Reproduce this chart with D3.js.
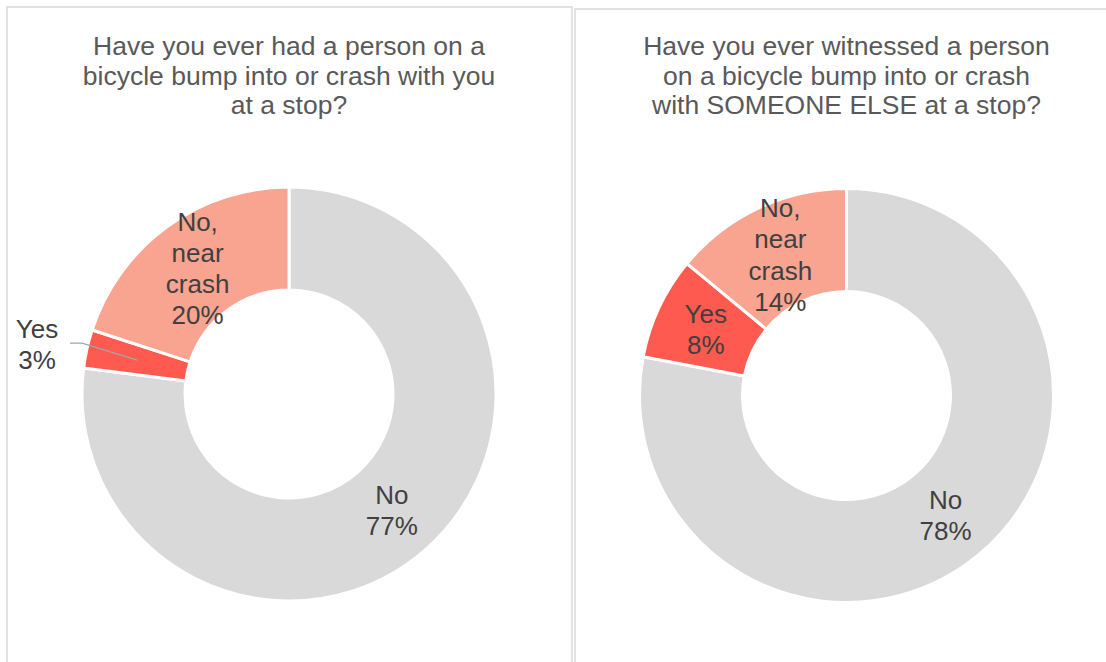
<!DOCTYPE html>
<html>
<head>
<meta charset="utf-8">
<script src="https://cdn.jsdelivr.net/npm/d3@7"></script>
<style>
  html, body { margin: 0; padding: 0; background: #ffffff; }
  svg { display: block; }
  text { font-family: "Liberation Sans", Arial, sans-serif; }
</style>
</head>
<body>
<svg id="chart" width="1106" height="662"></svg>
<script>
// Survey answers, in the order they are drawn clockwise from 12 o'clock
const categories = ["No", "Yes", "No, near crash"];
const labelLines = [["No"], ["Yes"], ["No,", "near", "crash"]];
const selfValues = [77, 3, 20];
const othersValues = [78, 8, 14];
const titles = [
  ["Have you ever had a person on a", "bicycle bump into or crash with you", "at a stop?"],
  ["Have you ever witnessed a person", "on a bicycle bump into or crash", "with SOMEONE ELSE at a stop?"]
];

const colors = d3.scaleOrdinal()
  .domain(categories)
  .range(["#d9d9d9", "#ff5a4f", "#f8a490"]);

const svg = d3.select("#chart");

const panels = [
  { x: 7, y: 7, w: 565, h: 700, cx: 289, cy: 394, values: selfValues, title: titles[0], outside: ["Yes"] },
  { x: 575, y: 9, w: 560, h: 700, cx: 846.5, cy: 395.5, values: othersValues, title: titles[1], outside: [] }
];

const outerR = 207;
const innerR = 104;

const pie = d3.pie().sort(null).value(d => d.value);
const arc = d3.arc().innerRadius(innerR).outerRadius(outerR);

panels.forEach(p => {
  const g = svg.append("g");

  // panel frame
  g.append("rect")
    .attr("x", p.x).attr("y", p.y)
    .attr("width", p.w).attr("height", p.h)
    .attr("fill", "none")
    .attr("stroke", "#d9d9d9")
    .attr("stroke-width", 1.5);

  // title
  const t = g.append("text")
    .attr("text-anchor", "middle")
    .attr("fill", "#595959")
    .attr("font-size", 26.5);
  p.title.forEach((line, i) => {
    t.append("tspan")
      .attr("x", p.cx)
      .attr("y", 55 + i * 29.5)
      .text(line);
  });

  const data = categories.map((c, i) => ({ category: c, value: p.values[i], lines: labelLines[i] }));
  const arcs = pie(data);

  const donut = g.append("g").attr("transform", `translate(${p.cx},${p.cy})`);

  donut.selectAll("path")
    .data(arcs)
    .join("path")
    .attr("d", arc)
    .attr("fill", d => colors(d.data.category))
    .attr("stroke", "#ffffff")
    .attr("stroke-width", 3)
    .attr("stroke-linejoin", "round");

  const lineH = 31.2;

  arcs.forEach(a => {
    const [mx, my] = arc.centroid(a);
    const lines = a.data.lines.concat([`${a.data.value}%`]);
    let lx = mx, ly = my;
    const isOutside = p.outside.includes(a.data.category);
    if (isOutside) {
      // label sits outside the ring with a leader line to the slice
      lx = -outerR - 45;
      ly = my - 16;
      const sx = lx + 33;
      donut.append("polyline")
        .attr("points", [[sx, ly - 1], [sx + 12, ly - 1], [mx, my]].map(q => q.join(",")).join(" "))
        .attr("fill", "none")
        .attr("stroke", "#a6a6a6")
        .attr("stroke-width", 1.3);
    }
    const txt = donut.append("text")
      .attr("text-anchor", "middle")
      .attr("fill", "#404040")
      .attr("font-size", 26);
    const top = ly - (lines.length - 1) * lineH / 2;
    lines.forEach((l, i) => {
      txt.append("tspan")
        .attr("x", lx)
        .attr("y", top + i * lineH)
        .attr("dy", "0.35em")
        .text(l);
    });
  });
});
</script>
</body>
</html>
